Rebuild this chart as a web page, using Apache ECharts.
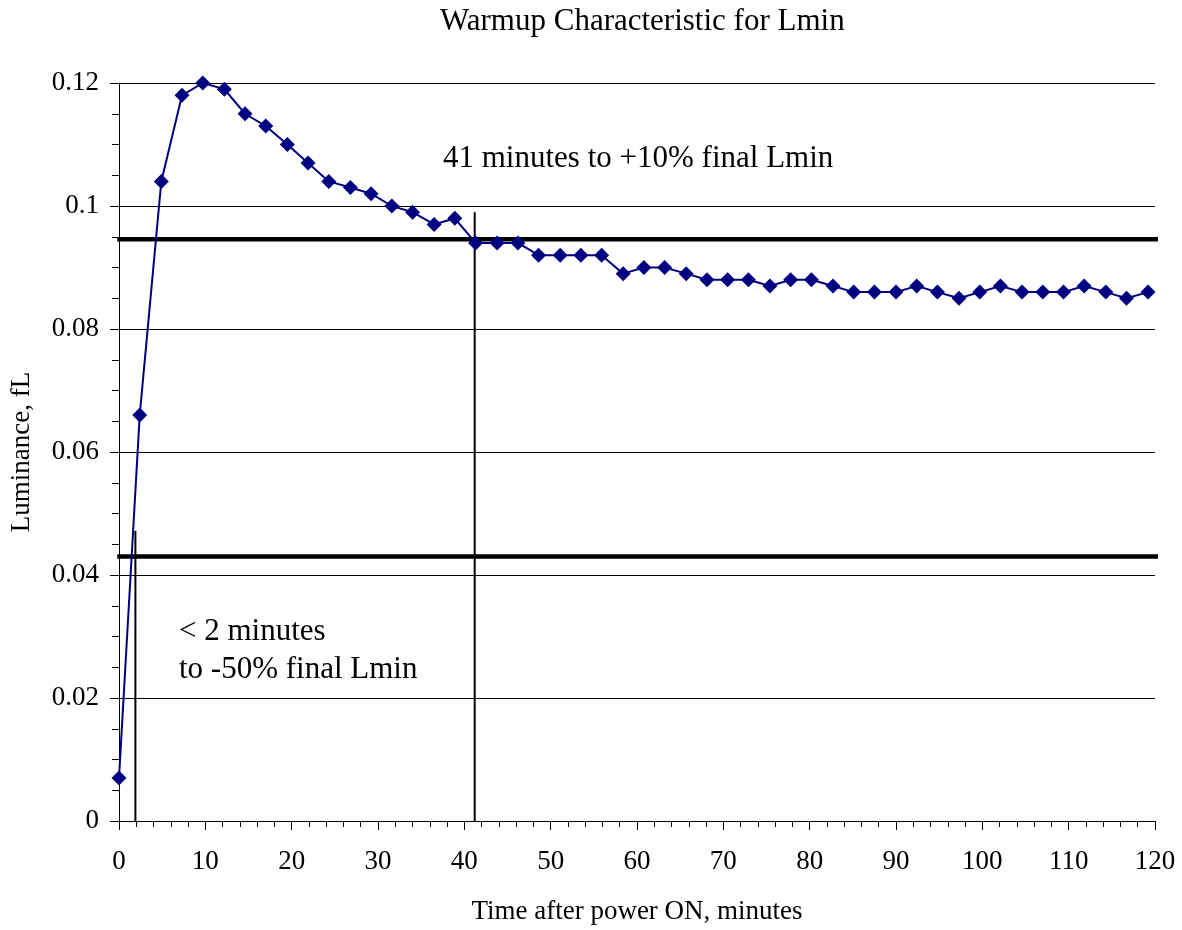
<!DOCTYPE html>
<html>
<head>
<meta charset="utf-8">
<title>Warmup Characteristic for Lmin</title>
<script src="https://cdn.jsdelivr.net/npm/echarts@6/dist/echarts.min.js"></script>
<style>
  html, body { margin: 0; padding: 0; background: #fff; }
  #chart { width: 1182px; height: 930px; }
</style>
</head>
<body>
<div id="chart"></div>
<script>
// sample times (minutes) and luminance readings (fL)
const times = [0, 2.4, 4.9, 7.3, 9.7, 12.2, 14.6, 17.0, 19.5, 21.9,
  24.3, 26.8, 29.2, 31.6, 34.0, 36.5, 38.9, 41.3, 43.8, 46.2,
  48.6, 51.1, 53.5, 55.9, 58.4, 60.8, 63.2, 65.7, 68.1, 70.5,
  72.9, 75.4, 77.8, 80.2, 82.7, 85.1, 87.5, 90.0, 92.4, 94.8,
  97.3, 99.7, 102.1, 104.6, 107.0, 109.4, 111.8, 114.3, 116.7, 119.2];
const luminance = [0.007, 0.066, 0.104, 0.118, 0.120, 0.119, 0.115, 0.113, 0.110, 0.107,
  0.104, 0.103, 0.102, 0.100, 0.099, 0.097, 0.098, 0.094, 0.094, 0.094,
  0.092, 0.092, 0.092, 0.092, 0.089, 0.090, 0.090, 0.089, 0.088, 0.088,
  0.088, 0.087, 0.088, 0.088, 0.087, 0.086, 0.086, 0.086, 0.087, 0.086,
  0.085, 0.086, 0.087, 0.086, 0.086, 0.086, 0.087, 0.086, 0.085, 0.086];

// reference levels: +10% and -50% of final Lmin
const upperLevel = 0.0946;
const lowerLevel = 0.043;
const levelSpan = [-0.2, 120.8];
// vertical markers: [time, top of marker]
const upperCross = [41.2, 0.099];
const lowerCross = [1.9, 0.0472];

const FONT = '"Liberation Serif", "Times New Roman", serif';

const chart = echarts.init(document.getElementById('chart'));

const thick = { color: '#000', width: 4.5 };
const thin = { color: '#000', width: 2 };

const option = {
  animation: false,
  backgroundColor: '#fff',
  textStyle: { fontFamily: FONT, color: '#000' },
  title: {
    text: 'Warmup Characteristic for Lmin',
    left: 435,
    top: 1,
    textStyle: { fontFamily: FONT, fontSize: 31, fontWeight: 'normal', color: '#000' }
  },
  grid: { left: 119, right: 27, top: 83, bottom: 109, containLabel: false },
  xAxis: {
    type: 'value',
    min: 0,
    max: 120,
    interval: 10,
    name: 'Time after power ON, minutes',
    nameLocation: 'middle',
    nameGap: 77,
    nameTextStyle: { fontFamily: FONT, fontSize: 27, color: '#000' },
    axisLine: { show: true, onZero: false, lineStyle: { color: '#000', width: 1 } },
    axisTick: { show: true, length: 9, lineStyle: { color: '#000' } },
    minorTick: { show: true, splitNumber: 5, length: 6, lineStyle: { color: '#000' } },
    axisLabel: { fontFamily: FONT, fontSize: 27, color: '#000', margin: 27 },
    splitLine: { show: false }
  },
  yAxis: {
    type: 'value',
    min: 0,
    max: 0.12,
    interval: 0.02,
    name: 'Luminance, fL',
    nameLocation: 'middle',
    nameGap: 84,
    nameRotate: 90,
    nameTextStyle: { fontFamily: FONT, fontSize: 27, color: '#000' },
    axisLine: { show: true, lineStyle: { color: '#000', width: 1 } },
    axisTick: { show: true, length: 9, lineStyle: { color: '#000' } },
    minorTick: { show: true, splitNumber: 4, length: 7, lineStyle: { color: '#000' } },
    axisLabel: { fontFamily: FONT, fontSize: 27, color: '#000', margin: 20 },
    splitLine: { show: true, lineStyle: { color: '#000', width: 1 } }
  },
  series: [
    {
      type: 'line', clip: false, symbol: 'none', silent: true, z: 3,
      lineStyle: thick,
      data: [[levelSpan[0], upperLevel], [levelSpan[1], upperLevel]]
    },
    {
      type: 'line', clip: false, symbol: 'none', silent: true, z: 3,
      lineStyle: thick,
      data: [[levelSpan[0], lowerLevel], [levelSpan[1], lowerLevel]]
    },
    {
      type: 'line', clip: false, symbol: 'none', silent: true, z: 3,
      lineStyle: thin,
      data: [[upperCross[0], 0], upperCross]
    },
    {
      type: 'line', clip: false, symbol: 'none', silent: true, z: 3,
      lineStyle: thin,
      data: [[lowerCross[0], 0], lowerCross]
    },
    {
      name: 'Lmin',
      type: 'line',
      z: 5,
      symbol: 'diamond',
      symbolSize: 15,
      color: '#000080',
      lineStyle: { color: '#000080', width: 2 },
      itemStyle: { color: '#000080' },
      data: times.map((t, i) => [t, luminance[i]])
    }
  ],
  graphic: [
    {
      type: 'text', left: 443, top: 143,
      style: { text: '41 minutes to +10% final Lmin', font: '31px ' + FONT, fill: '#000' }
    },
    {
      type: 'text', left: 179, top: 616,
      style: { text: '< 2 minutes', font: '31px ' + FONT, fill: '#000' }
    },
    {
      type: 'text', left: 179, top: 654,
      style: { text: 'to -50% final Lmin', font: '31px ' + FONT, fill: '#000' }
    }
  ]
};

chart.setOption(option);
</script>
</body>
</html>
